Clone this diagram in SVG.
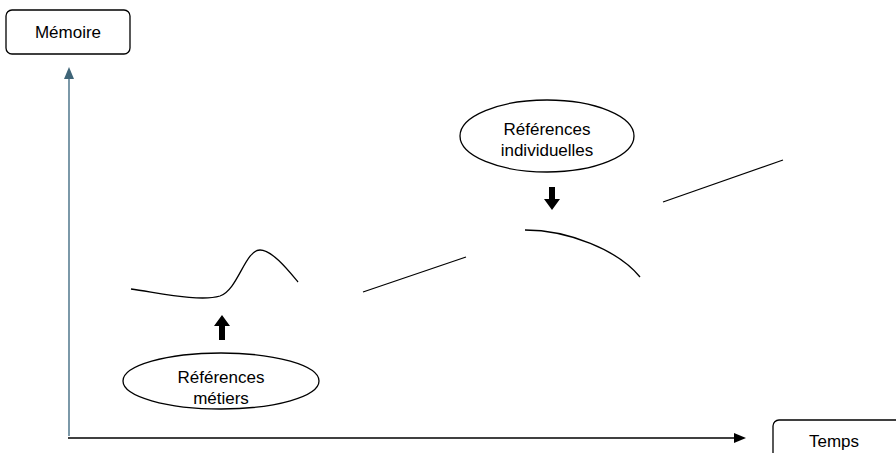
<svg xmlns="http://www.w3.org/2000/svg" width="896" height="453" viewBox="0 0 896 453">
<style>
text{font-family:"Liberation Sans",Arial,sans-serif;font-size:17px;fill:#000;text-anchor:middle}
.box{fill:#fff;stroke:#000;stroke-width:1.3}
.curve{fill:none;stroke:#000;stroke-width:1.3}
.blk{fill:#000}
</style>
<rect width="896" height="453" fill="#fff"/>
<g id="connectors">
<path d="M69,436 L69,76" stroke="#5b7f93" stroke-width="1.6" fill="none"/>
<path d="M69,67 l-5,12 l10,0 z" fill="#3f6578"/>
<line x1="68" y1="438" x2="735" y2="438" stroke="#000" stroke-width="1.3"/>
<path d="M746,438 l-12,-5 l0,10 z" fill="#000"/>
<path class="blk" d="M222,315 l-8,11 l5,0 l0,14 l6,0 l0,-14 l5,0 z"/>
<path class="blk" d="M552,210 l-8,-11 l5,0 l0,-12 l6,0 l0,12 l5,0 z"/>
</g>
<g id="curves">
<path class="curve" d="M131,289 C160,293 200,302 220,296 C238,290 245,250 260,250 C272,250 288,270 298,282"/>
<line class="curve" x1="363" y1="292" x2="466" y2="257"/>
<path class="curve" d="M525,230 C568,230 618,250 640,277"/>
<line class="curve" x1="663" y1="202" x2="783" y2="160"/>
</g>
<g id="memoire">
<rect class="box" x="6" y="10" width="124" height="44" rx="6"/>
<text x="68" y="38">Mémoire</text>
</g>
<g id="temps">
<rect class="box" x="773" y="420" width="130" height="44" rx="6"/>
<text x="834" y="447">Temps</text>
</g>
<g id="ref-metiers">
<ellipse class="box" cx="221" cy="381" rx="98" ry="28"/>
<text x="221" y="383">Références</text>
<text x="221" y="404">métiers</text>
</g>
<g id="ref-indiv">
<ellipse class="box" cx="547" cy="136" rx="87" ry="36"/>
<text x="547" y="135">Références</text>
<text x="547" y="156">individuelles</text>
</g>
</svg>
